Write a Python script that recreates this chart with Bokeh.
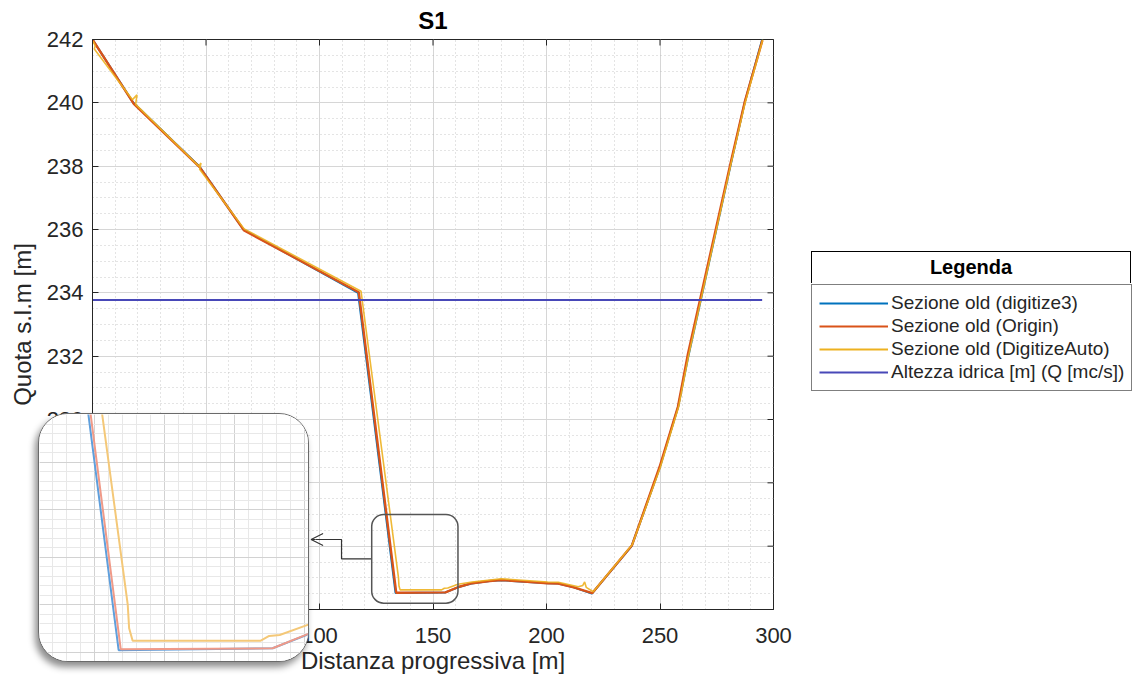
import math
from bokeh.plotting import figure
from bokeh.models import (LinearAxis, SingleIntervalTicker, Legend, LegendItem, BoxAnnotation,
                          Arrow, OpenHead, Grid, Range1d, GridBox, Div)
from bokeh.embed import file_html
from bokeh.resources import INLINE

# ---------------- data ----------------
x_digitize3 = [0, 18, 47, 66.5, 117, 133.5, 155.5, 161, 167, 175, 180, 190, 200.5, 205, 212, 220,
               237.5, 250, 258, 262.5, 281, 287.3, 295]
y_digitize3 = [242, 240, 238, 236, 234, 224.52, 224.54, 224.7, 224.82, 224.9, 224.92, 224.88, 224.83,
               224.82, 224.7, 224.5, 226, 228.5, 230.4, 232, 238, 240, 242]

x_origin = [0, 18.2, 47.2, 66.8, 117.3, 133.8, 155.5, 161.2, 167.2, 175, 180, 190, 200.5, 205.2, 212,
            220.2, 237.6, 249.8, 257.9, 262.3, 281, 287.3, 295.1]
y_origin = [242, 239.97, 237.97, 235.97, 234.02, 224.53, 224.54, 224.71, 224.83, 224.9, 224.93, 224.88,
            224.83, 224.82, 224.7, 224.52, 226.02, 228.5, 230.4, 232.07, 238.07, 240.02, 241.97]

x_digitize_auto = [0.3, 1.2, 0.8, 17.6, 19.6, 19.0, 46.8, 47.8, 47.2, 66.8, 118.3, 134.8, 135.0, 135.5,
                   153.8, 155.0, 156.5, 161, 167.2, 180, 200.5, 205.2, 214, 216, 216.8, 217.5, 220.6,
                   237.8, 250.2, 258.2, 262.7, 281.2, 287.5, 295.3]
y_digitize_auto = [241.95, 241.8, 241.7, 240.1, 240.25, 239.95, 238.0, 238.1, 237.9, 236.02, 234.05,
                   225.0, 224.75, 224.62, 224.62, 224.67, 224.68, 224.8, 224.87, 224.97, 224.87, 224.86,
                   224.72, 224.76, 224.87, 224.7, 224.56, 226.05, 228.5, 230.4, 232.05, 238.05, 240.0, 242.0]

x_water = [0, 295]
y_water = [233.77, 233.77]

x_ticks = [0, 50, 100, 150, 200, 250, 300]
y_ticks = [224, 226, 228, 230, 232, 234, 236, 238, 240, 242]

labels = ["Sezione old (digitize3)", "Sezione old (Origin)", "Sezione old (DigitizeAuto)",
          "Altezza idrica [m] (Q [mc/s])"]
legend_title = "Legenda"
chart_title = "S1"

# ---------------- styling ----------------
FONT = "Liberation Sans"
BLUE, ORANGE, YELLOW, WATER = "#0072BD", "#D95319", "#EDB120", "#4848B8"
AX = "#262626"

p = figure(width=1138, height=682, x_range=Range1d(x_ticks[0], x_ticks[-1]),
           y_range=Range1d(y_ticks[0], y_ticks[-1]),
           output_backend="svg", toolbar_location=None, title=chart_title,
           min_border_left=92, min_border_right=365, min_border_top=39, min_border_bottom=73,
           x_axis_type=None, y_axis_type=None)
p.outline_line_color = AX
p.outline_line_width = 1
p.title.text_font = FONT
p.title.text_font_size = "24px"
p.title.text_font_style = "bold"
p.title.text_color = "#000000"
p.title.align = "center"
p.title.vertical_align = "top"
p.title.standoff = 8

xt = SingleIntervalTicker(interval=50, num_minor_ticks=5)
yt = SingleIntervalTicker(interval=2, num_minor_ticks=4)


def style_axis(ax, label_standoff, axis_standoff):
    ax.axis_line_color = AX
    ax.major_tick_line_color = AX
    ax.major_tick_in = 6
    ax.major_tick_out = 0
    ax.minor_tick_in = 0
    ax.minor_tick_out = 0
    ax.major_label_text_font = FONT
    ax.major_label_text_color = AX
    ax.major_label_text_font_size = "22px"
    ax.major_label_standoff = label_standoff
    ax.axis_label_text_font = FONT
    ax.axis_label_text_font_style = "normal"
    ax.axis_label_text_color = AX
    ax.axis_label_text_font_size = "24px"
    ax.axis_label_standoff = axis_standoff


xb = LinearAxis(ticker=xt, axis_label="Distanza progressiva [m]")
style_axis(xb, 18, 1)
yl = LinearAxis(ticker=yt, axis_label="Quota s.l.m [m]")
style_axis(yl, 9, 8)
p.add_layout(xb, "below")
p.add_layout(yl, "left")

gx = Grid(dimension=0, ticker=xt, grid_line_color="#d6d6d6", grid_line_width=1,
          minor_grid_line_color="#bdbdbd", minor_grid_line_dash="1 3", minor_grid_line_alpha=0.8)
gy = Grid(dimension=1, ticker=yt, grid_line_color="#d6d6d6", grid_line_width=1,
          minor_grid_line_color="#bdbdbd", minor_grid_line_dash="1 3", minor_grid_line_alpha=0.8)
p.add_layout(gx)
p.add_layout(gy)

# inward ticks on the top and right edges of the box (half of each dash is clipped by the frame)
p.scatter(x=x_ticks, y=[y_ticks[-1]] * len(x_ticks), marker="dash", angle=math.pi / 2, size=12,
          line_color=AX, line_width=1)
p.scatter(x=[x_ticks[-1]] * len(y_ticks), y=y_ticks, marker="dash", size=12, line_color=AX, line_width=1)

p.line(x_digitize3, y_digitize3, color=BLUE, line_width=2)
p.line(x_origin, y_origin, color=ORANGE, line_width=2.4)
p.line(x_digitize_auto, y_digitize_auto, color=YELLOW, line_width=1.6, line_alpha=0.9)
p.line(x_water, y_water, color=WATER, line_width=2)

# zoom window + connector (view decorations, in axis units)
ZOOM_LEFT, ZOOM_RIGHT, ZOOM_BOTTOM, ZOOM_TOP = 123, 161, 224.2, 227.0
p.add_layout(BoxAnnotation(left=ZOOM_LEFT, right=ZOOM_RIGHT, bottom=ZOOM_BOTTOM, top=ZOOM_TOP,
                           fill_alpha=0, line_color="#555555", line_alpha=1, line_width=1.5,
                           border_radius=12))
ELBOW_X, CONN_Y1, CONN_Y2, TIP_X = 109.7, 225.6, 226.21, 96.3
p.line([ZOOM_LEFT, ELBOW_X, ELBOW_X, TIP_X + 2], [CONN_Y1, CONN_Y1, CONN_Y2, CONN_Y2],
       color="#333333", line_width=1.2)
p.add_layout(Arrow(end=OpenHead(size=12, line_color="#333333", line_width=1.2),
                   x_start=TIP_X + 2, y_start=CONN_Y2, x_end=TIP_X, y_end=CONN_Y2,
                   line_color="#333333", line_width=1.2))

# ---------------- inset (magnified view) ----------------
inset = figure(width=271, height=249, x_range=Range1d(122.2, 160.9), y_range=Range1d(224.38, 227.0),
               x_axis_type=None, y_axis_type=None, toolbar_location=None, output_backend="svg",
               min_border=0, outline_line_color=None,
               styles={"border-radius": "30px", "overflow": "hidden", "border": "1.5px solid #6a6a6a",
                       "box-shadow": "-3px 5px 7px rgba(0,0,0,0.45)", "background": "white",
                       "box-sizing": "border-box", "z-index": "10"})
inset.add_layout(Grid(dimension=0, ticker=SingleIntervalTicker(interval=10, num_minor_ticks=5),
                      grid_line_color="#d2d2d2", minor_grid_line_color="#e8e8e8"))
inset.add_layout(Grid(dimension=1, ticker=SingleIntervalTicker(interval=0.5, num_minor_ticks=5),
                      grid_line_color="#d2d2d2", minor_grid_line_color="#e8e8e8"))
inset.line(x_digitize3, y_digitize3, color="#5f9fdc", line_width=2)
inset.line(x_origin, y_origin, color="#f09a88", line_width=2)
inset.line(x_digitize_auto, y_digitize_auto, color="#f4c878", line_width=2)

# ---------------- legend (its own small figure beside the axes) ----------------
lf = figure(width=324, height=115, x_range=Range1d(0, 1), y_range=Range1d(0, 1),
            x_axis_type=None, y_axis_type=None, toolbar_location=None, output_backend="svg",
            min_border=0, outline_line_color=None, background_fill_alpha=0, border_fill_alpha=0)
lr = [lf.line(x_digitize3, y_digitize3, color=BLUE, line_width=2, visible=False),
      lf.line(x_origin, y_origin, color=ORANGE, line_width=2, visible=False),
      lf.line(x_digitize_auto, y_digitize_auto, color=YELLOW, line_width=2, visible=False),
      lf.line(x_water, y_water, color=WATER, line_width=2, visible=False)]
legend = Legend(items=[LegendItem(label=l, renderers=[r]) for l, r in zip(labels, lr)],
                location="top_left")
legend.label_text_font = FONT
legend.label_text_font_size = "19px"
legend.label_text_color = AX
legend.glyph_width = 69
legend.label_standoff = 3
legend.spacing = 1
legend.padding = 7
legend.margin = 1
legend.border_line_color = "#000000"
legend.border_line_width = 1
legend.background_fill_color = "white"
legend.background_fill_alpha = 1
lf.add_layout(legend, "center")

# legend header (centred title; the legend's own top border is the rule under it)
header = Div(text=legend_title, width=320, height=33, margin=(0, 0, 0, 1),
             styles={"border": "1px solid #000000", "border-bottom": "none", "box-sizing": "border-box",
                     "text-align": "center", "font-family": FONT, "font-size": "20px",
                     "font-weight": "bold", "color": "#000000", "line-height": "31px",
                     "background": "white", "z-index": "10"})

layout = GridBox(children=[(p, 0, 0, 6, 5), (inset, 4, 1, 1, 1), (header, 1, 3, 1, 1), (lf, 2, 3, 1, 1)],
                 rows=["251px", "32px", "115px", "15px", "249px", "20px"],
                 cols=["38px", "271px", "501px", "324px", "4px"])

open("out.html", "w").write(file_html(layout, INLINE))
